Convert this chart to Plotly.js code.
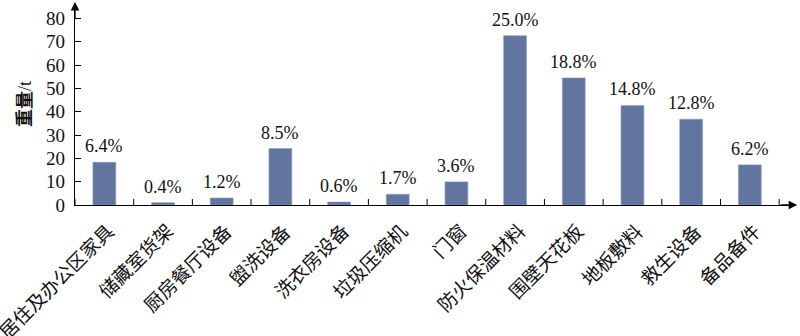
<!DOCTYPE html>
<html>
<head>
<meta charset="utf-8">
<script src="https://cdn.plot.ly/plotly-3.0.1.min.js"></script>
<style>html,body{margin:0;padding:0;background:#fff;}#chart{width:800px;height:336px;}</style>
</head>
<body>
<div id="chart"></div>
<script>
const categories = ['居住及办公区家具','储藏室货架','厨房餐厅设备','盥洗设备','洗衣房设备','垃圾压缩机','门窗','防火保温材料','围壁天花板','地板敷料','救生设备','备品备件'];
const weights = [18.3, 1.0, 3.0, 24.2, 1.3, 4.6, 9.9, 72.6, 54.5, 42.7, 36.8, 17.2];
const percentLabels = ['6.4%','0.4%','1.2%','8.5%','0.6%','1.7%','3.6%','25.0%','18.8%','14.8%','12.8%','6.2%'];
const yTicks = [0,10,20,30,40,50,60,70,80];

const serif = 'Liberation Serif, Times New Roman, serif';
const cjk = 'Liberation Serif, Noto Sans CJK SC, serif';

const trace = {
  type: 'bar',
  x: categories.map((c, i) => i),
  y: weights,
  width: 0.39,
  marker: {color: '#62759e', line: {color: '#8fa0c0', width: 0.6}},
  hoverinfo: 'skip'
};

const annotations = percentLabels.map((t, i) => ({
  x: i, y: weights[i], xref: 'x', yref: 'y',
  text: t, showarrow: false, yanchor: 'bottom', yshift: 4,
  font: {family: serif, size: 18, color: '#111'}
}));

// category labels (rotated)
categories.forEach((c, i) => annotations.push({
  x: i, y: 0, xref: 'x', yref: 'y',
  text: c, showarrow: false, textangle: -45,
  xanchor: 'right', yanchor: 'top', xshift: 17, yshift: -13,
  font: {family: cjk, size: 19, color: '#111'}
}));

annotations.push({
  xref: 'paper', yref: 'paper', x: -0.0694, y: 0.5,
  xanchor: 'center', yanchor: 'middle',
  text: '<b>重量</b>/t', showarrow: false, textangle: -90,
  font: {family: cjk, size: 18, color: '#111'}
});
// axis arrows
annotations.push({
  xref: 'paper', yref: 'paper', x: 1.003, y: 0, ax: -18, ay: 0,
  text: '', showarrow: true, arrowhead: 2, arrowsize: 1.3, arrowwidth: 1.3, arrowcolor: '#000'
});
annotations.push({
  xref: 'paper', yref: 'paper', x: 0, y: 1.005, ax: 0, ay: 18,
  text: '', showarrow: true, arrowhead: 2, arrowsize: 1.3, arrowwidth: 1.3, arrowcolor: '#000'
});

const layout = {
  width: 800, height: 336,
  margin: {l: 75, r: 5, t: 3, b: 131},
  paper_bgcolor: '#fff', plot_bgcolor: '#fff',
  showlegend: false,
  xaxis: {
    range: [-0.5, 11.77],
    tickvals: categories.map((c, i) => i),
    showticklabels: false,
    ticks: '',
    showline: true, linecolor: '#000', linewidth: 1.3,
    showgrid: false, zeroline: false
  },
  yaxis: {
    range: [0, 86.6],
    tickvals: yTicks,
    ticks: 'inside', ticklen: 6, tickcolor: '#000', tickwidth: 1,
    ticklabelstandoff: 5,
    showline: true, linecolor: '#000', linewidth: 1.3,
    showgrid: false, zeroline: false,
    tickfont: {family: serif, size: 19, color: '#111'}
  },
  shapes: categories.map((c, i) => i + 0.5).concat([-0.5]).map(b => ({
    type: 'line', xref: 'x', yref: 'paper', x0: b, x1: b, y0: 0, y1: 0.03,
    line: {color: '#000', width: 1}
  })),
  annotations: annotations
};

Plotly.newPlot('chart', [trace], layout, {staticPlot: true});
</script>
</body>
</html>
